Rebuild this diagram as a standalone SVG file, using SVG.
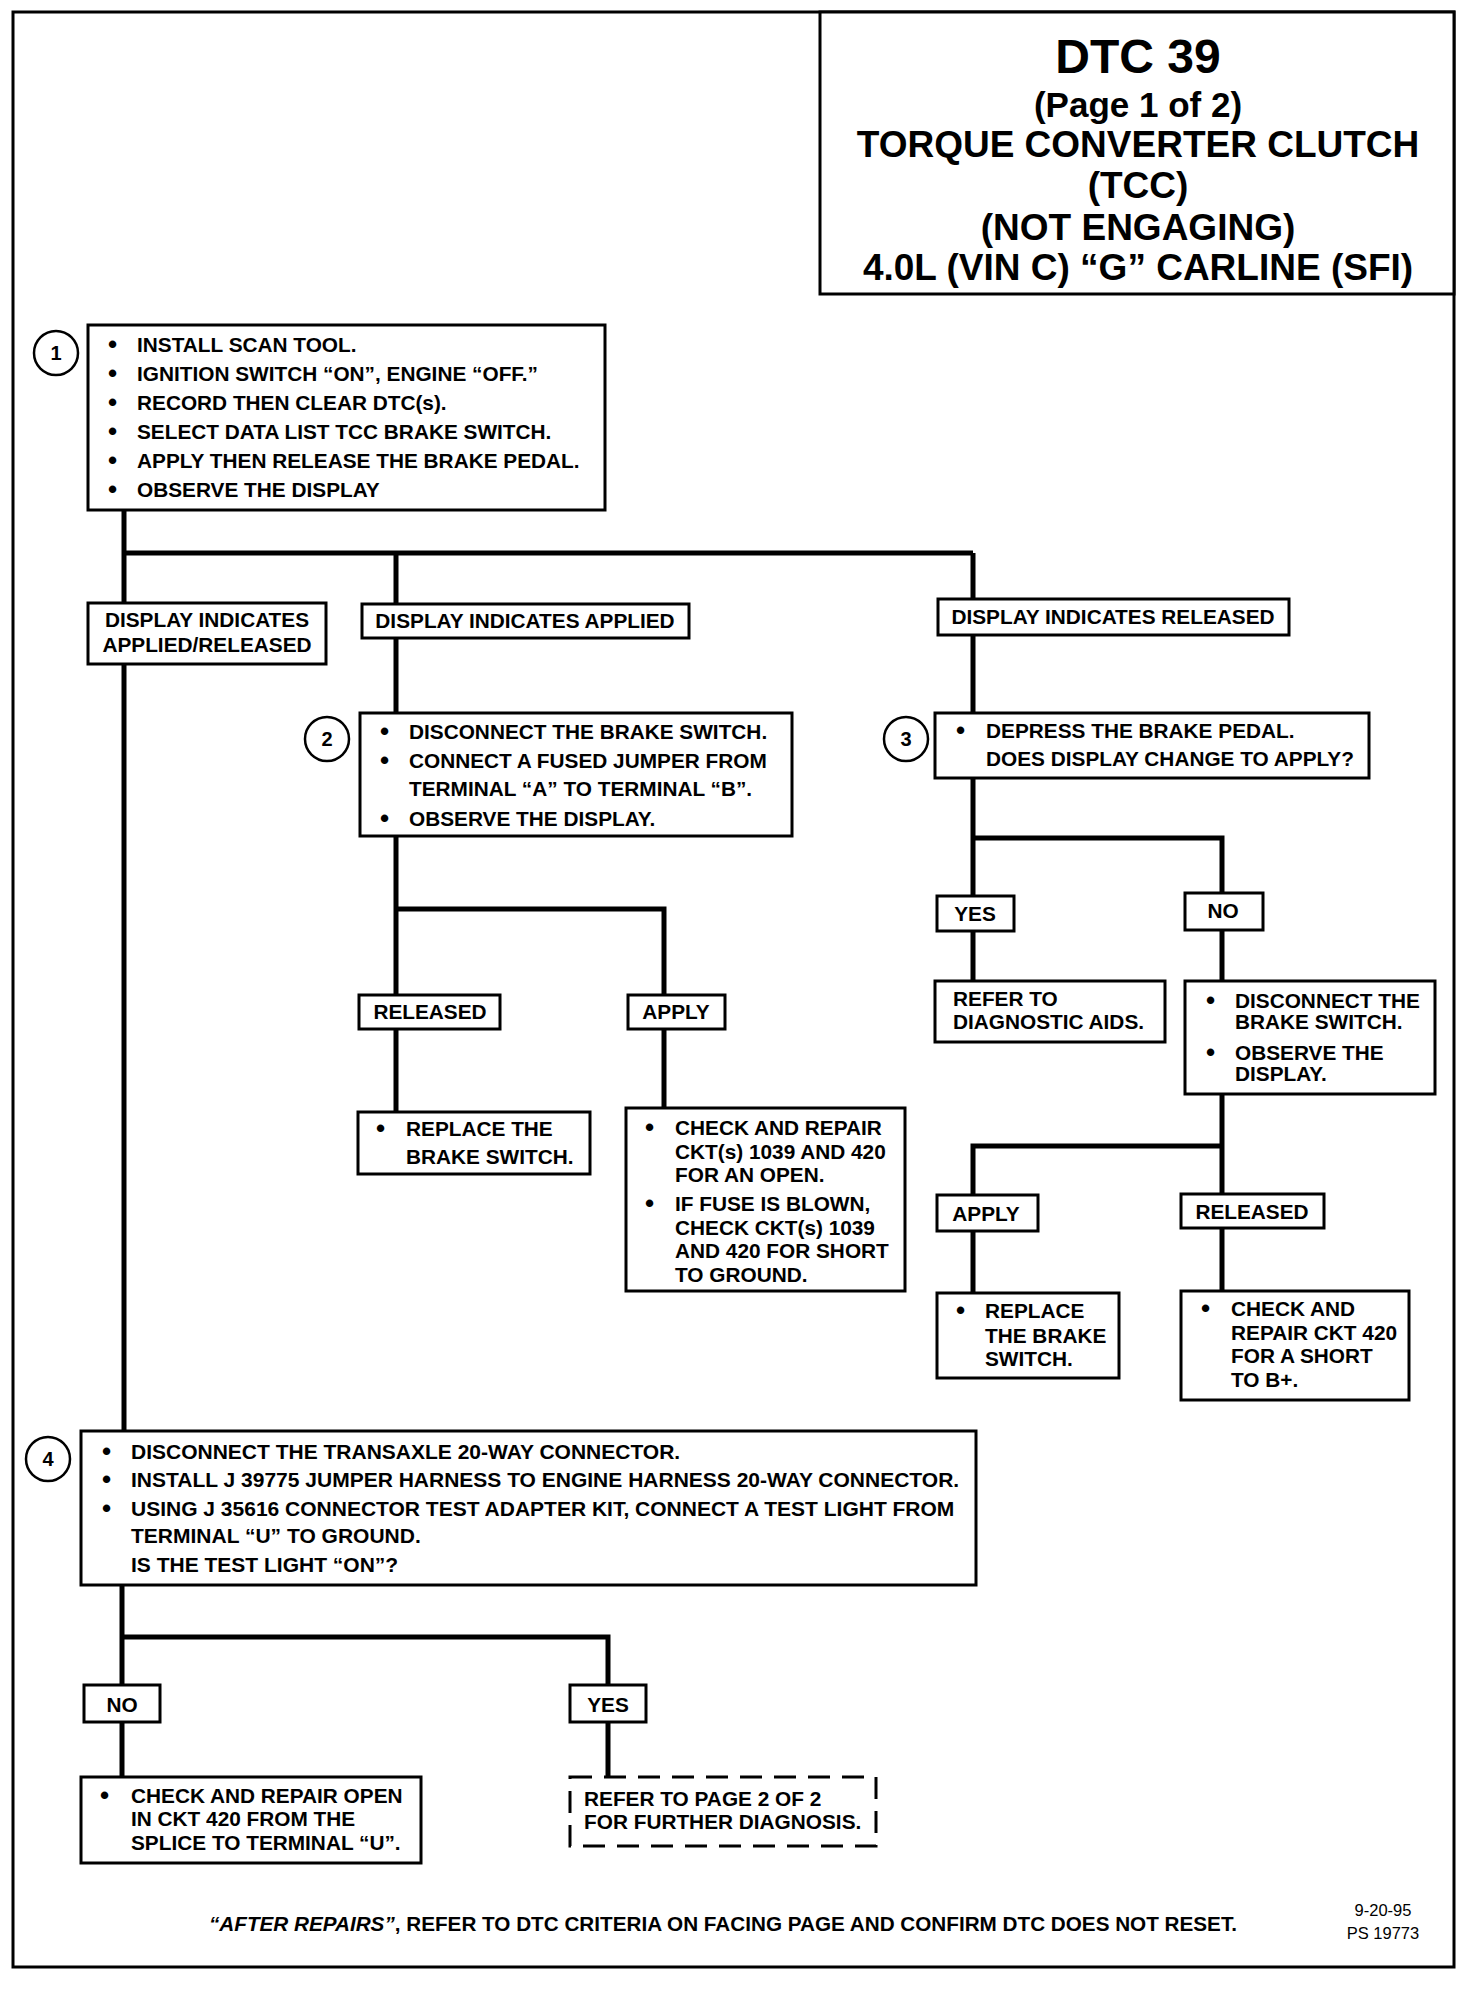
<svg xmlns="http://www.w3.org/2000/svg" width="1472" height="1994" viewBox="0 0 1472 1994">
<style>
.box{fill:#fff;stroke:#000;stroke-width:3}
.dash{fill:#fff;stroke:#000;stroke-width:3;stroke-dasharray:22 12}
.conn{fill:none;stroke:#000;stroke-width:5}
.circ{fill:#fff;stroke:#000;stroke-width:2.5}
text{font-family:"Liberation Sans",Arial,sans-serif;font-weight:bold;font-size:20.8px;fill:#000}
.b{font-size:26px}
.ttl{font-size:37px;text-anchor:middle}
.mid{text-anchor:middle}
.num{font-size:20px;text-anchor:middle}
.s4{font-size:21px}
.ft{font-size:20px}
.sm{font-size:16.5px;font-weight:normal;text-anchor:middle}
</style>
<rect x="0" y="0" width="1472" height="1994" fill="#fff"/>
<rect x="13" y="12" width="1441" height="1955" fill="none" stroke="#000" stroke-width="3"/>

<g id="title">
<rect x="820" y="12" width="634" height="282" fill="#fff" stroke="#000" stroke-width="3"/>
<text class="ttl" x="1138" y="73" style="font-size:48px">DTC 39</text>
<text class="ttl" x="1138" y="117" style="font-size:35px">(Page 1 of 2)</text>
<text class="ttl" x="1138" y="157">TORQUE CONVERTER CLUTCH</text>
<text class="ttl" x="1138" y="198">(TCC)</text>
<text class="ttl" x="1138" y="240">(NOT ENGAGING)</text>
<text class="ttl" x="1138" y="280">4.0L (VIN C) “G” CARLINE (SFI)</text>
</g>

<g id="connectors">
<path class="conn" d="M124 510 V1431"/>
<path class="conn" d="M124 553 H973"/>
<path class="conn" d="M396 553 V713"/>
<path class="conn" d="M973 553 V713"/>
<path class="conn" d="M396 836 V1112"/>
<path class="conn" d="M396 909 H664 V1108"/>
<path class="conn" d="M973 778 V981"/>
<path class="conn" d="M973 838 H1222 V981"/>
<path class="conn" d="M1222 1094 V1291"/>
<path class="conn" d="M1222 1146 H973 V1293"/>
<path class="conn" d="M122 1585 V1777"/>
<path class="conn" d="M122 1637 H608 V1777"/>
</g>

<g id="step1">
<circle class="circ" cx="56" cy="353" r="22"/>
<text class="num" x="56" y="360">1</text>
<rect class="box" x="88" y="325" width="517" height="185"/>
<text class="b" x="108" y="353">•</text><text x="137" y="352">INSTALL SCAN TOOL.</text>
<text class="b" x="108" y="382">•</text><text x="137" y="381">IGNITION SWITCH “ON”, ENGINE “OFF.”</text>
<text class="b" x="108" y="411">•</text><text x="137" y="410">RECORD THEN CLEAR DTC(s).</text>
<text class="b" x="108" y="440">•</text><text x="137" y="439">SELECT DATA LIST TCC BRAKE SWITCH.</text>
<text class="b" x="108" y="469">•</text><text x="137" y="468">APPLY THEN RELEASE THE BRAKE PEDAL.</text>
<text class="b" x="108" y="498">•</text><text x="137" y="497">OBSERVE THE DISPLAY</text>
</g>

<g id="lbl-applied-released">
<rect class="box" x="88" y="603" width="238" height="61"/>
<text class="mid" x="207" y="627">DISPLAY INDICATES</text>
<text class="mid" x="207" y="652">APPLIED/RELEASED</text>
</g>
<g id="lbl-applied">
<rect class="box" x="362" y="604" width="327" height="34"/>
<text class="mid" x="525" y="628">DISPLAY INDICATES APPLIED</text>
</g>
<g id="lbl-released">
<rect class="box" x="938" y="599" width="351" height="36"/>
<text class="mid" x="1113" y="624">DISPLAY INDICATES RELEASED</text>
</g>

<g id="step2">
<circle class="circ" cx="327" cy="739" r="22"/>
<text class="num" x="327" y="746">2</text>
<rect class="box" x="360" y="713" width="432" height="123"/>
<text class="b" x="380" y="740">•</text><text x="409" y="739">DISCONNECT THE BRAKE SWITCH.</text>
<text class="b" x="380" y="769">•</text><text x="409" y="768">CONNECT A FUSED JUMPER FROM</text>
<text x="409" y="796">TERMINAL “A” TO TERMINAL “B”.</text>
<text class="b" x="380" y="827">•</text><text x="409" y="826">OBSERVE THE DISPLAY.</text>
</g>

<g id="step3">
<circle class="circ" cx="906" cy="739" r="22"/>
<text class="num" x="906" y="746">3</text>
<rect class="box" x="935" y="713" width="434" height="65"/>
<text class="b" x="956" y="739">•</text><text x="986" y="738">DEPRESS THE BRAKE PEDAL.</text>
<text x="986" y="766">DOES DISPLAY CHANGE TO APPLY?</text>
</g>

<g id="lbl-released2">
<rect class="box" x="359" y="995" width="141" height="34"/>
<text class="mid" x="430" y="1019">RELEASED</text>
</g>
<g id="lbl-apply2">
<rect class="box" x="628" y="995" width="97" height="34"/>
<text class="mid" x="676" y="1019">APPLY</text>
</g>
<g id="replace1">
<rect class="box" x="358" y="1112" width="232" height="62"/>
<text class="b" x="376" y="1137">•</text><text x="406" y="1136">REPLACE THE</text>
<text x="406" y="1164">BRAKE SWITCH.</text>
</g>
<g id="check1">
<rect class="box" x="626" y="1108" width="279" height="183"/>
<text class="b" x="645" y="1136">•</text><text x="675" y="1135">CHECK AND REPAIR</text>
<text x="675" y="1159">CKT(s) 1039 AND 420</text>
<text x="675" y="1182">FOR AN OPEN.</text>
<text class="b" x="645" y="1212">•</text><text x="675" y="1211">IF FUSE IS BLOWN,</text>
<text x="675" y="1235">CHECK CKT(s) 1039</text>
<text x="675" y="1258">AND 420 FOR SHORT</text>
<text x="675" y="1282">TO GROUND.</text>
</g>

<g id="lbl-yes3">
<rect class="box" x="937" y="896" width="77" height="35"/>
<text class="mid" x="975" y="921">YES</text>
</g>
<g id="lbl-no3">
<rect class="box" x="1185" y="893" width="78" height="37"/>
<text class="mid" x="1223" y="918">NO</text>
</g>
<g id="refer-aids">
<rect class="box" x="935" y="981" width="230" height="61"/>
<text x="953" y="1006">REFER TO</text>
<text x="953" y="1029">DIAGNOSTIC AIDS.</text>
</g>
<g id="disconnect3">
<rect class="box" x="1185" y="981" width="250" height="113"/>
<text class="b" x="1206" y="1009">•</text><text x="1235" y="1008">DISCONNECT THE</text>
<text x="1235" y="1029">BRAKE SWITCH.</text>
<text class="b" x="1206" y="1061">•</text><text x="1235" y="1060">OBSERVE THE</text>
<text x="1235" y="1081">DISPLAY.</text>
</g>
<g id="lbl-apply3">
<rect class="box" x="937" y="1195" width="101" height="36"/>
<text class="mid" x="986" y="1221">APPLY</text>
</g>
<g id="lbl-released3">
<rect class="box" x="1181" y="1194" width="143" height="34"/>
<text class="mid" x="1252" y="1219">RELEASED</text>
</g>
<g id="replace3">
<rect class="box" x="937" y="1293" width="182" height="85"/>
<text class="b" x="956" y="1319">•</text><text x="985" y="1318">REPLACE</text>
<text x="985" y="1343">THE BRAKE</text>
<text x="985" y="1366">SWITCH.</text>
</g>
<g id="check3">
<rect class="box" x="1181" y="1291" width="228" height="109"/>
<text class="b" x="1201" y="1317">•</text><text x="1231" y="1316">CHECK AND</text>
<text x="1231" y="1340">REPAIR CKT 420</text>
<text x="1231" y="1363">FOR A SHORT</text>
<text x="1231" y="1387">TO B+.</text>
</g>

<g id="step4">
<circle class="circ" cx="48" cy="1459" r="22"/>
<text class="num" x="48" y="1466">4</text>
<rect class="box" x="81" y="1431" width="895" height="154"/>
<text class="b" x="102" y="1460">•</text><text class="s4" x="131" y="1459">DISCONNECT THE TRANSAXLE 20-WAY CONNECTOR.</text>
<text class="b" x="102" y="1488">•</text><text class="s4" x="131" y="1487">INSTALL J 39775 JUMPER HARNESS TO ENGINE HARNESS 20-WAY CONNECTOR.</text>
<text class="b" x="102" y="1517">•</text><text class="s4" x="131" y="1516">USING J 35616 CONNECTOR TEST ADAPTER KIT, CONNECT A TEST LIGHT FROM</text>
<text class="s4" x="131" y="1543">TERMINAL “U” TO GROUND.</text>
<text class="s4" x="131" y="1572">IS THE TEST LIGHT “ON”?</text>
</g>

<g id="lbl-no4">
<rect class="box" x="84" y="1685" width="76" height="37"/>
<text class="mid" x="122" y="1712">NO</text>
</g>
<g id="lbl-yes4">
<rect class="box" x="570" y="1685" width="76" height="37"/>
<text class="mid" x="608" y="1712">YES</text>
</g>
<g id="check4">
<rect class="box" x="81" y="1777" width="340" height="86"/>
<text class="b" x="100" y="1804">•</text><text x="131" y="1803">CHECK AND REPAIR OPEN</text>
<text x="131" y="1826">IN CKT 420 FROM THE</text>
<text x="131" y="1850">SPLICE TO TERMINAL “U”.</text>
</g>
<g id="refer-page2">
<rect class="dash" x="570" y="1777" width="306" height="69"/>
<text x="584" y="1806">REFER TO PAGE 2 OF 2</text>
<text x="584" y="1829">FOR FURTHER DIAGNOSIS.</text>
</g>

<g id="footer">
<text class="ft" x="209" y="1931" textLength="1028" lengthAdjust="spacingAndGlyphs"><tspan font-style="italic">“AFTER REPAIRS”</tspan>, REFER TO DTC CRITERIA ON FACING PAGE AND CONFIRM DTC DOES NOT RESET.</text>
<text class="sm" x="1383" y="1916">9-20-95</text>
<text class="sm" x="1383" y="1939">PS 19773</text>
</g>
</svg>
